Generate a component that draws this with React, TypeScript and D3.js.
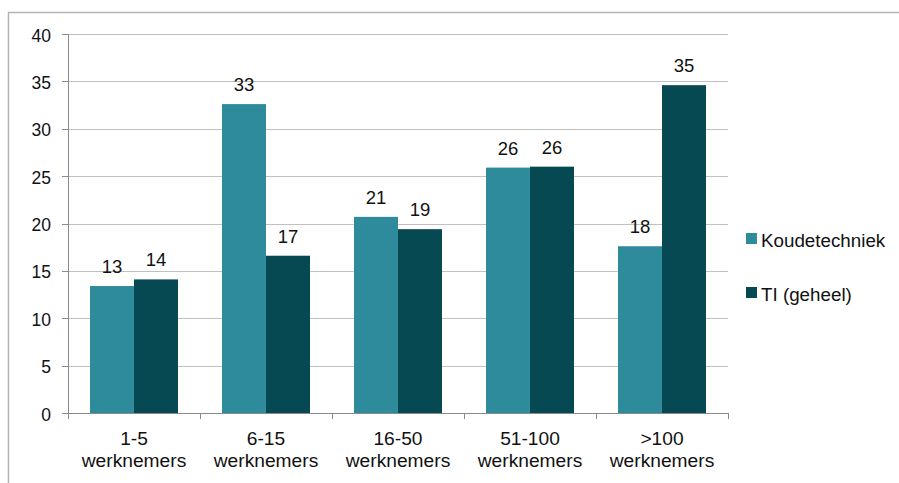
import React from "react";
import * as d3 from "d3";

// Share of companies per size class (%)
const categories = ["1-5", "6-15", "16-50", "51-100", ">100"];
const categorySub = "werknemers";
const seriesNames = ["Koudetechniek", "TI (geheel)"];
const koudetechniek = [13.4, 32.6, 20.7, 25.9, 17.6];
const tiGeheel = [14.1, 16.6, 19.4, 26.0, 34.6];
const yTicks = [0, 5, 10, 15, 20, 25, 30, 35, 40];

const colors = ["#2E8B9B", "#074952"];
const FONT = "'Liberation Sans', Arial, sans-serif";

export default function App() {
  const W = 899;
  const H = 483;
  const plot = { left: 68, right: 728, top: 34, bottom: 413 };

  const y = d3.scaleLinear().domain([0, 40]).range([plot.bottom, plot.top]);
  const x = d3
    .scaleBand<string>()
    .domain(categories)
    .range([plot.left, plot.right])
    .paddingInner(1 / 3)
    .paddingOuter(1 / 6);
  const inner = d3
    .scaleBand<number>()
    .domain([0, 1])
    .range([0, x.bandwidth()]);

  const series = [koudetechniek, tiGeheel];
  const step = x.step();
  const boundaries = d3.range(categories.length + 1).map((i) => plot.left + i * step);

  return (
    <svg
      width={W}
      height={H}
      style={{ position: "absolute", left: 0, top: 0, background: "#fff" }}
      fontFamily={FONT}
    >
      {/* outer chart frame */}
      <path d={`M8.5,${H} V12.5 H${W}`} fill="none" stroke="#b4b4b4" strokeWidth={1.5} />

      {/* gridlines */}
      {yTicks.slice(1).map((t) => (
        <line
          key={`g${t}`}
          x1={plot.left}
          x2={plot.right}
          y1={Math.round(y(t)) + 0.5}
          y2={Math.round(y(t)) + 0.5}
          stroke="#c0c0c0"
          strokeWidth={1}
        />
      ))}

      {/* y axis */}
      <line x1={plot.left + 0.5} x2={plot.left + 0.5} y1={plot.top} y2={plot.bottom} stroke="#8a8a8a" />
      {yTicks.map((t) => (
        <g key={`y${t}`}>
          <line
            x1={plot.left - 6}
            x2={plot.left}
            y1={Math.round(y(t)) + 0.5}
            y2={Math.round(y(t)) + 0.5}
            stroke="#8a8a8a"
          />
          <text x={51} y={y(t) + 7.5} textAnchor="end" fontSize={17.5} fill="#111">
            {t}
          </text>
        </g>
      ))}

      {/* bars */}
      {series.map((vals, si) =>
        categories.map((c, ci) => {
          const bx = (x(c) as number) + (inner(si) as number);
          const by = y(vals[ci]);
          return (
            <g key={`b${si}-${ci}`}>
              <rect
                x={bx}
                y={by}
                width={inner.bandwidth()}
                height={plot.bottom - by}
                fill={colors[si]}
              />
              <text
                x={bx + inner.bandwidth() / 2}
                y={by - 13}
                textAnchor="middle"
                fontSize={18.5}
                fill="#111"
              >
                {Math.round(vals[ci])}
              </text>
            </g>
          );
        })
      )}

      {/* x axis */}
      <line x1={plot.left} x2={plot.right} y1={plot.bottom + 0.5} y2={plot.bottom + 0.5} stroke="#8a8a8a" />
      {boundaries.map((bx, i) => (
        <line
          key={`xt${i}`}
          x1={Math.round(bx) + 0.5}
          x2={Math.round(bx) + 0.5}
          y1={plot.bottom}
          y2={plot.bottom + 6}
          stroke="#8a8a8a"
        />
      ))}
      {categories.map((c) => {
        const cx = (x(c) as number) + x.bandwidth() / 2;
        return (
          <text key={`xl${c}`} textAnchor="middle" fontSize={19.2} fill="#111">
            <tspan x={cx} y={444.5}>
              {c}
            </tspan>
            <tspan x={cx} y={467}>
              {categorySub}
            </tspan>
          </text>
        );
      })}

      {/* legend */}
      {seriesNames.map((name, i) => (
        <g key={`lg${i}`} transform={`translate(746, ${233 + i * 54})`}>
          <rect x={0} y={0} width={11} height={11} fill={colors[i]} />
          <text x={15} y={13.5} fontSize={18.8} fill="#111">
            {name}
          </text>
        </g>
      ))}
    </svg>
  );
}
